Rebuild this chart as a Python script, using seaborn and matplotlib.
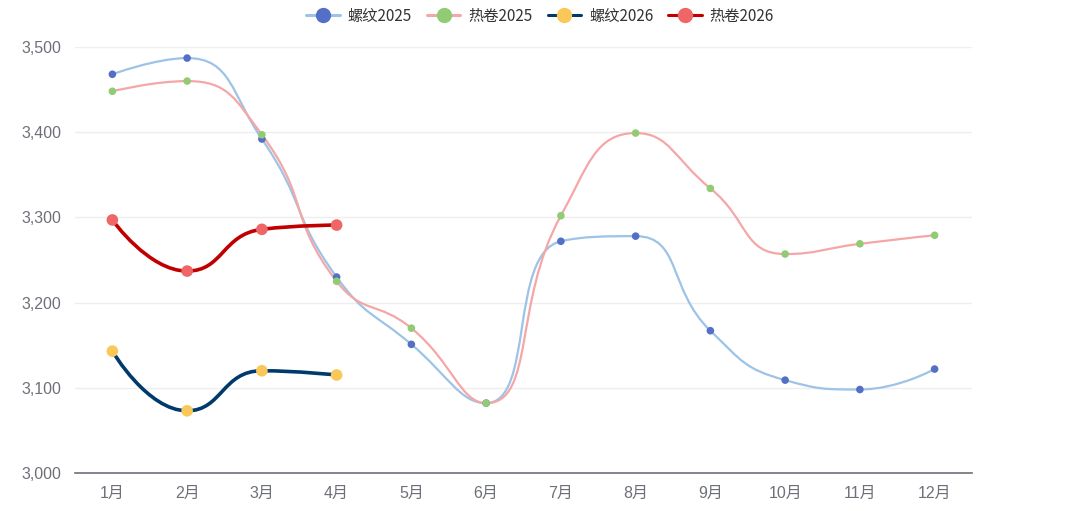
import matplotlib
matplotlib.use("Agg")
import matplotlib.pyplot as plt
from matplotlib.path import Path
from matplotlib.patches import PathPatch
from matplotlib.lines import Line2D
import seaborn as sns
import pandas as pd
import numpy as np

months = ["1月", "2月", "3月", "4月", "5月", "6月", "7月", "8月", "9月", "10月", "11月", "12月"]
rebar_2025 = [3468, 3487, 3392, 3230, 3151, 3082, 3272, 3278, 3167, 3109, 3098, 3122]
hrc_2025 = [3448, 3460, 3397, 3225, 3170, 3082, 3302, 3399, 3334, 3257, 3269, 3279]
rebar_2026 = [3143, 3073, 3120, 3115]
hrc_2026 = [3297, 3237, 3286, 3291]

sns.set_theme(style="white")
plt.rcParams["font.family"] = ["Liberation Sans", "Noto Sans CJK SC", "DejaVu Sans"]

fig = plt.figure(figsize=(10.8, 5.11), dpi=100)
ax = fig.add_axes([75 / 1080, 1 - 473 / 511, (972 - 75) / 1080, (473 - 47) / 511])

# px per unit, used so the smoothing works in screen space like echarts
PX_X = (972 - 75) / 12
PX_Y = (473 - 47) / 500


def smooth_path(ys, smooth=0.5):
    pts = [(i * PX_X, y * PX_Y) for i, y in enumerate(ys)]
    n = len(pts)
    verts = [pts[0]]
    codes = [Path.MOVETO]
    cp0 = pts[0]
    for k in range(1, n):
        x, y = pts[k]
        px, py = pts[k - 1]
        if k == n - 1:
            cp1 = (x, y)
            nxt = (x, y)
        else:
            nx, ny = pts[k + 1]
            vx, vy = nx - px, ny - py
            lp = np.hypot(x - px, y - py)
            ln = np.hypot(nx - x, ny - y)
            r = ln / (ln + lp)
            ncx = x + vx * smooth * r
            ncy = y + vy * smooth * r
            ncx = max(min(ncx, max(nx, x)), min(nx, x))
            ncy = max(min(ncy, max(ny, y)), min(ny, y))
            vx, vy = ncx - x, ncy - y
            c1x = x - vx * lp / ln
            c1y = y - vy * lp / ln
            c1x = max(min(c1x, max(px, x)), min(px, x))
            c1y = max(min(c1y, max(py, y)), min(py, y))
            vx, vy = x - c1x, y - c1y
            nxt = (x + vx * ln / lp, y + vy * ln / lp)
            cp1 = (c1x, c1y)
        verts += [cp0, cp1, (x, y)]
        codes += [Path.CURVE4] * 3
        cp0 = nxt
    verts = [(vx / PX_X, vy / PX_Y) for vx, vy in verts]
    return Path(verts, codes)


series = [
    ("螺纹2025", rebar_2025, "#9dc3e6", "#5470c6", 1.6, 30),
    ("热卷2025", hrc_2025, "#f4a7a6", "#91cc75", 1.6, 30),
    ("螺纹2026", rebar_2026, "#003a6c", "#fac858", 2.6, 70),
    ("热卷2026", hrc_2026, "#c00000", "#ee6666", 2.6, 70),
]

handles = []
for z, (name, vals, lc, mc, lw, ms) in enumerate(series):
    ax.add_patch(PathPatch(smooth_path(vals), facecolor="none", edgecolor=lc,
                           lw=lw, zorder=2 + z, capstyle="round", joinstyle="round"))
    df = pd.DataFrame({"x": range(len(vals)), "y": vals})
    sns.scatterplot(data=df, x="x", y="y", color=mc, s=ms, edgecolor="none",
                    ax=ax, zorder=10 + z, legend=False)
    handles.append(Line2D([0], [0], color=lc, lw=2.2, marker="o", markersize=10,
                          markerfacecolor=mc, markeredgecolor=mc))

ax.set_xlim(-0.5, 11.5)
ax.set_ylim(3000, 3500)
ax.set_xlabel("")
ax.set_ylabel("")
ax.set_yticks([3000, 3100, 3200, 3300, 3400, 3500])
ax.set_yticklabels([f"{v:,}" for v in [3000, 3100, 3200, 3300, 3400, 3500]])
ax.set_xticks(np.arange(-0.5, 12, 1))
ax.set_xticklabels([])
ax.set_xticks(range(12), minor=True)
ax.set_xticklabels(months, minor=True)
ax.tick_params(axis="x", which="major", length=5, width=1.2, color="#6e7079", direction="out")
ax.tick_params(axis="x", which="minor", length=0, pad=9, labelsize=11.5, labelcolor="#6e7079")
ax.tick_params(axis="y", length=0, pad=10, labelsize=11.5, labelcolor="#6e7079")
ax.grid(axis="y", color="#eeeeee", lw=1)
for s in ["left", "right", "top"]:
    ax.spines[s].set_visible(False)
ax.spines["bottom"].set_color("#6e7079")
ax.spines["bottom"].set_linewidth(1.2)

fig.legend(handles, [s[0] for s in series], loc="upper center", bbox_to_anchor=(0.5, 1.012),
           ncol=4, frameon=False, handlelength=2.2, columnspacing=1.0,
           handletextpad=0.5, labelcolor="#333333",
           prop={"family": ["Noto Sans CJK SC", "DejaVu Sans"], "size": 11})

fig.savefig("out.png", dpi=100, facecolor="white")
